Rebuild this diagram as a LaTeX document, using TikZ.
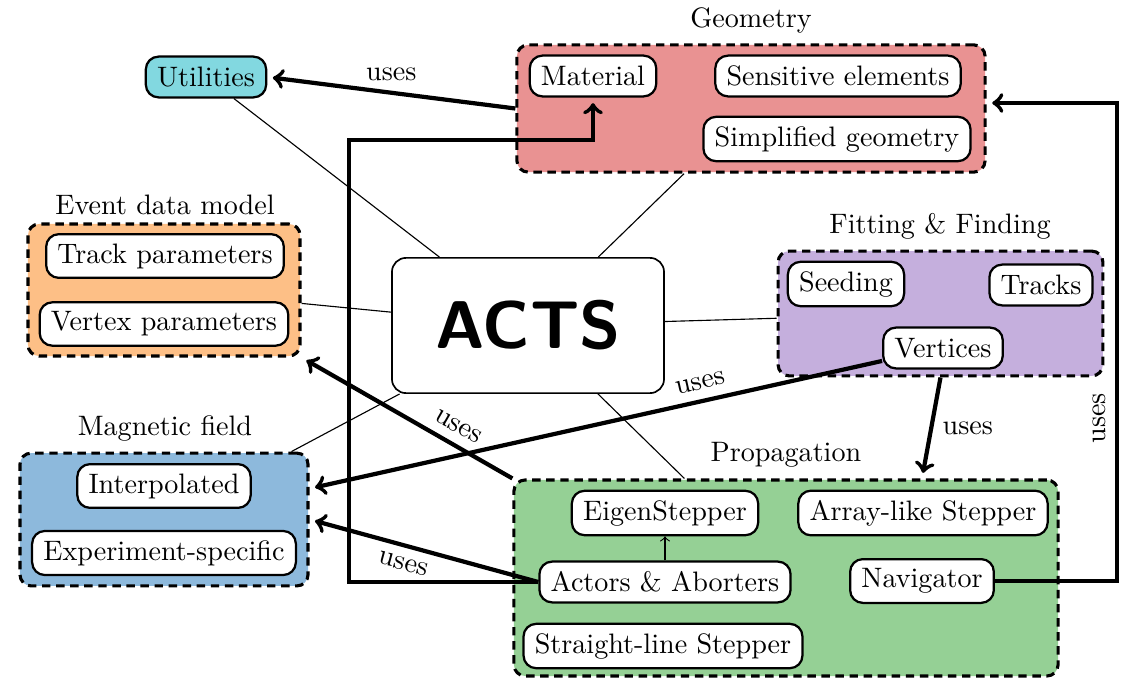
\documentclass[tikz,border=0pt]{standalone}
\definecolor{geomred}{HTML}{E99292}
\definecolor{edmorange}{HTML}{FDBF86}
\definecolor{fieldblue}{HTML}{8DB9DC}
\definecolor{fitpurple}{HTML}{C5AFDD}
\definecolor{propgreen}{HTML}{95D095}
\definecolor{utilcyan}{HTML}{82D8E0}
\tikzset{
    groupbox/.style={draw,line width=1.1pt,dash pattern=on 3pt off 2pt,rounded corners=4pt,inner sep=0pt},
    part/.style={draw,fill=white,thick,rounded corners=4.5pt,inner xsep=4pt,minimum height=14.5pt},
    uses/.style={->,line width=1.5pt,shorten >=2pt}
}
\begin{document}
\begin{tikzpicture}[x=0.0125cm,y=-0.0125cm]
            \useasboundingbox (0,0) rectangle (1124,678);

            \node[groupbox,fill=geomred,minimum width=5.85cm,minimum height=1.59cm] (geo) at (751,108.5) {};
            \node[groupbox,fill=edmorange,minimum width=3.4cm,minimum height=1.65cm] (edm) at (164,290) {};
            \node[groupbox,fill=fieldblue,minimum width=3.6cm,minimum height=1.66cm] (field) at (164,519.5) {};
            \node[groupbox,fill=fitpurple,minimum width=4.06cm,minimum height=1.56cm] (fitting) at (940.5,313.5) {};
            \node[groupbox,fill=propgreen,minimum width=6.8cm,minimum height=2.45cm] (prop) at (786,578) {};

            \node (geotitle) at (751,20) {Geometry};
            \node (edmtitle) at (165,205) {Event data model};
            \node (fieldtitle) at (165,428) {Magnetic field};
            \node (fittitle) at (940,226) {Fitting \& Finding};
            \node (proptitle) at (786,455) {Propagation};

            \node[part,fill=utilcyan] (util) at (206,77) {Utilities};
            \node[part] (material) at (593,76) {Material};
            \node[part] (sensitive) at (838,76) {Sensitive elements};
            \node[part] (simplified) at (837,139) {Simplified geometry};
            \node[part] (trackpar) at (165,256) {Track parameters};
            \node[part] (vertexpar) at (164,324) {Vertex parameters};
            \node[part] (interp) at (164,486) {Interpolated};
            \node[part] (expspec) at (164,553) {Experiment-specific};
            \node[part] (seeding) at (846,284) {Seeding};
            \node[part] (tracks) at (1041,285) {Tracks};
            \node[part] (vertices) at (943,348) {Vertices};
            \node[part] (eigen) at (665,513) {EigenStepper};
            \node[part] (arraylike) at (923,513) {Array-like Stepper};
            \node[part] (actors) at (665,582) {Actors \& Aborters};
            \node[part] (nav) at (922,581) {Navigator};
            \node[part] (straight) at (663,646) {Straight-line Stepper};

            \node[draw,semithick,fill=white,rounded corners=5pt,minimum width=3.4cm,minimum height=1.69cm,
                font=\fontsize{24}{28}\selectfont\sffamily\bfseries] (acts) at (528,325.5) {ACTS};

            \draw (util) -- (acts);
            \draw (geo) -- (acts);
            \draw (edm) -- (acts);
            \draw (acts) -- (fitting);
            \draw (acts) -- (field);
            \draw (acts) -- (prop);

            \coordinate (routebend) at (349,140);
            \coordinate (navbend) at (1117,103);
            \draw[uses] (geo.west) -- node[above] (usesutil) {uses} (util.east);
            \draw[uses] (actors.west) -| (routebend) -| (material.south);
            \draw[uses] (nav.east) -| node[pos=0.67,sloped,above] (usesgeo) {uses} (navbend) -- (geo.east |- navbend);
            \draw[uses] (vertices.192) -- node[pos=0.31,sloped,above] (usesvert) {uses} (field.12);
            \draw[uses] (prop.north west) -- node[pos=0.3,sloped,above] (usesedm) {uses} (edm.south east);
            \draw[uses] (actors.west) -- node[pos=0.57,sloped,below] (usesfield) {uses} (field.east);
            \draw[uses] (fitting.south) -- node[right] (usesprop) {uses} (prop.north -| nav);
            \draw[->] (actors) -- (eigen);
\end{tikzpicture}
\end{document}
